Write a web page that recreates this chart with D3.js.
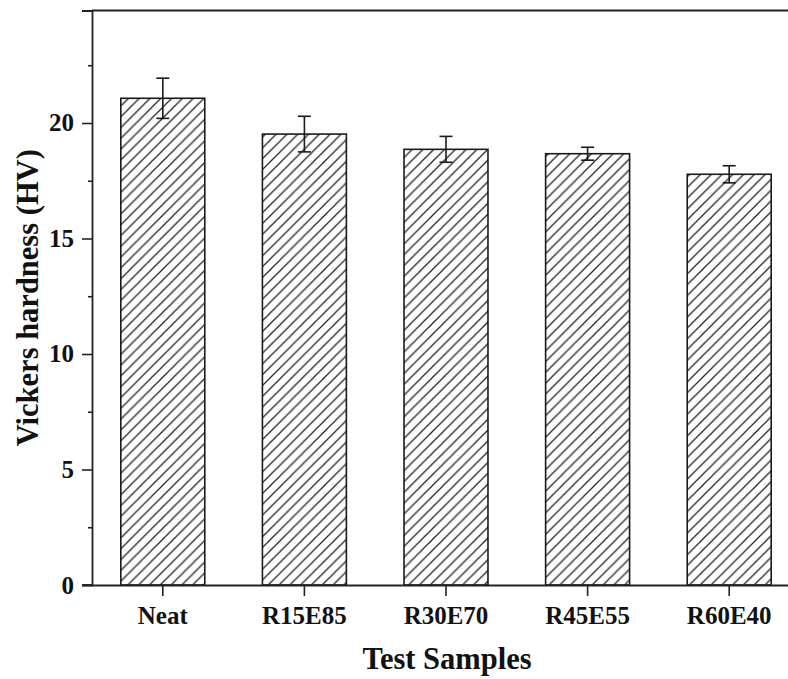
<!DOCTYPE html>
<html>
<head>
<meta charset="utf-8">
<script src="https://cdn.jsdelivr.net/npm/d3@7"></script>
<style>
  html, body { margin: 0; padding: 0; background: #fff; }
  svg { display: block; }
  text { font-family: "Liberation Serif", "Times New Roman", serif; font-weight: bold; fill: #111; }
</style>
</head>
<body>
<svg id="chart" width="788" height="679"></svg>
<script>
// Vickers hardness of the test samples (HV), mean and standard deviation
const categories = ["Neat", "R15E85", "R30E70", "R45E55", "R60E40"];
const hardness = [21.07, 19.52, 18.86, 18.67, 17.78];
const hardnessErr = [0.87, 0.77, 0.56, 0.28, 0.37];
const yTicks = [0, 5, 10, 15, 20];
const yMinorTicks = [2.5, 7.5, 12.5, 17.5, 22.5];

(function () {
const svg = d3.select("#chart");
const plotLeft = 92, plotRight = 800, plotTop = 10.5, plotBottom = 585;

const x = d3.scaleBand()
  .domain(categories)
  .range([plotLeft, plotRight])
  .paddingInner(0.407)
  .paddingOuter(0.2035);

const y = d3.scaleLinear()
  .domain([0, 24.87])
  .range([plotBottom, plotTop]);

// diagonal hatch fill
const defs = svg.append("defs");
const s = 10.8;
defs.append("pattern")
  .attr("id", "hatch")
  .attr("patternUnits", "userSpaceOnUse")
  .attr("width", s).attr("height", s)
  .append("path")
  .attr("d", `M${-s/2},${s/2} L${s/2},${-s/2} M0,${s} L${s},0 M${s/2},${s*1.5} L${s*1.5},${s/2}`)
  .attr("stroke", "#222")
  .attr("stroke-width", 1.25)
  .attr("fill", "none");

const data = categories.map((c, i) => ({ c, v: hardness[i], e: hardnessErr[i] }));

// bars
svg.append("g").selectAll("rect")
  .data(data)
  .join("rect")
  .attr("x", d => x(d.c))
  .attr("y", d => y(d.v))
  .attr("width", x.bandwidth())
  .attr("height", d => y(0) - y(d.v))
  .attr("fill", "url(#hatch)")
  .attr("stroke", "#1a1a1a")
  .attr("stroke-width", 1.6);

// error bars
const cap = 6.5;
const eg = svg.append("g").attr("stroke", "#1a1a1a").attr("stroke-width", 1.6).attr("fill", "none");
data.forEach(d => {
  const cx = x(d.c) + x.bandwidth() / 2;
  eg.append("line").attr("x1", cx).attr("x2", cx).attr("y1", y(d.v + d.e)).attr("y2", y(d.v - d.e));
  eg.append("line").attr("x1", cx - cap).attr("x2", cx + cap).attr("y1", y(d.v + d.e)).attr("y2", y(d.v + d.e));
  eg.append("line").attr("x1", cx - cap).attr("x2", cx + cap).attr("y1", y(d.v - d.e)).attr("y2", y(d.v - d.e));
});

// top frame line
svg.append("line")
  .attr("x1", plotLeft).attr("x2", plotRight).attr("y1", plotTop).attr("y2", plotTop)
  .attr("stroke", "#222").attr("stroke-width", 1.8);

// y axis with major and minor ticks
svg.append("g").attr("transform", `translate(${plotLeft},0)`)
  .call(d3.axisLeft(y).tickValues(yTicks).tickSize(10).tickPadding(8).tickFormat(d3.format("d")));
svg.append("g").attr("transform", `translate(${plotLeft},0)`)
  .call(d3.axisLeft(y).tickValues(yMinorTicks).tickSize(4).tickFormat(""))
  .call(g => g.select(".domain").remove());

// x axis
svg.append("g").attr("transform", `translate(0,${plotBottom})`)
  .call(d3.axisBottom(x).tickSize(11).tickSizeOuter(0).tickPadding(10));

svg.selectAll(".domain").attr("stroke", "#222").attr("stroke-width", 1.8);
svg.selectAll(".tick line").attr("stroke", "#222").attr("stroke-width", 1.6);
svg.selectAll(".tick text")
  .attr("font-family", "'Liberation Serif', 'Times New Roman', serif")
  .attr("font-weight", "bold")
  .attr("font-size", 25)
  .attr("fill", "#111");

// extend the baseline left to the y axis tick
svg.append("line")
  .attr("x1", plotLeft - 10).attr("x2", plotLeft).attr("y1", plotBottom).attr("y2", plotBottom)
  .attr("stroke", "#222").attr("stroke-width", 1.8);

// axis titles
svg.append("text")
  .attr("x", (plotLeft + plotRight) / 2 + 1)
  .attr("y", 669)
  .attr("text-anchor", "middle")
  .attr("font-size", 30.5)
  .text("Test Samples");

svg.append("text")
  .attr("transform", `translate(38,${(plotTop + plotBottom) / 2}) rotate(-90)`)
  .attr("text-anchor", "middle")
  .attr("font-size", 30.5)
  .text("Vickers hardness (HV)");
})();
</script>
</body>
</html>
